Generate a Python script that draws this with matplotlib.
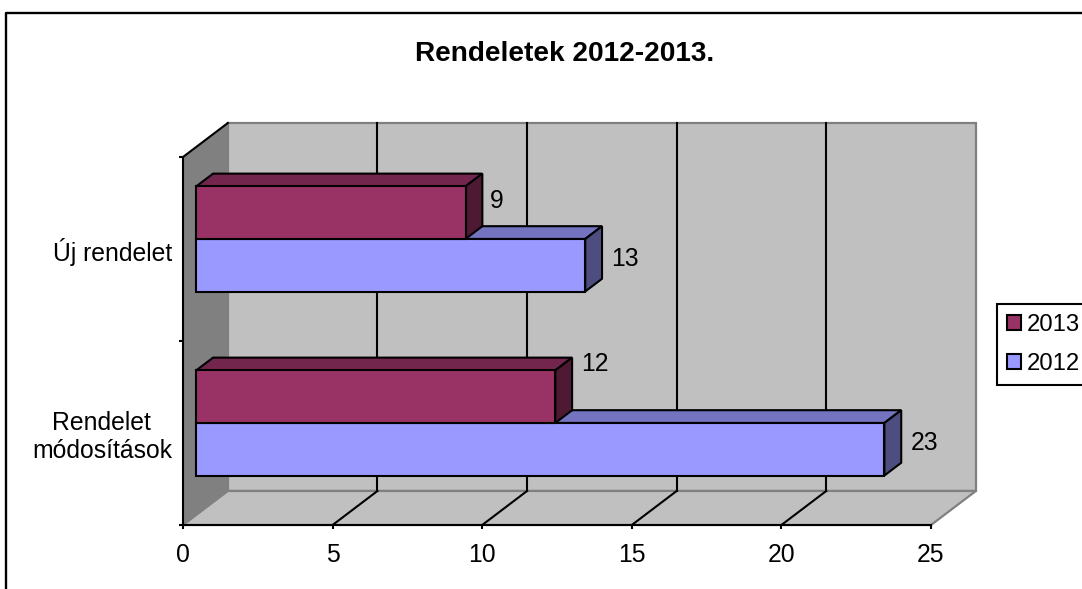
from matplotlib import pyplot as plt
from matplotlib.lines import Line2D
from matplotlib.patches import Patch, Polygon

plt.rcParams["font.family"] = ["Liberation Sans", "DejaVu Sans"]

title = "Rendeletek 2012-2013."
categories = ["Rendelet\nmódosítások", "Új rendelet"]
series_names = ["2012", "2013"]
values_2012 = [23, 13]
values_2013 = [12, 9]
x_ticks = [0, 5, 10, 15, 20, 25]

# front face, top face, side face
colors_2012 = ("#9999FF", "#7373BF", "#4D4D80")
colors_2013 = ("#993366", "#73264D", "#4D1933")
WALL = "#C0C0C0"
SIDE_WALL = "#808080"

W, H = 1082, 589
FONT = 17.8
LW = 1.5

# 3d look: how far the back wall is shifted from the front plane
DEPTH_X = 1.5
DEPTH_Y = 0.185
BAR_FRONT = 0.295
BAR_BACK = 0.67
BAR_H = 1 / 3.5


def shift(x, y, d):
    return (x + DEPTH_X * d, y + DEPTH_Y * d)


def face(ax, pts, color, edge="black", lw=LW, z=3):
    ax.add_patch(Polygon(pts, closed=True, facecolor=color, edgecolor=edge,
                         linewidth=lw, zorder=z, clip_on=False, joinstyle="miter"))


def draw_bar(ax, value, y0, colors):
    y1 = y0 + BAR_H
    front = [shift(0, y0, BAR_FRONT), shift(value, y0, BAR_FRONT),
             shift(value, y1, BAR_FRONT), shift(0, y1, BAR_FRONT)]
    top = [shift(0, y1, BAR_FRONT), shift(value, y1, BAR_FRONT),
           shift(value, y1, BAR_BACK), shift(0, y1, BAR_BACK)]
    side = [shift(value, y0, BAR_FRONT), shift(value, y0, BAR_BACK),
            shift(value, y1, BAR_BACK), shift(value, y1, BAR_FRONT)]
    face(ax, top, colors[1])
    face(ax, side, colors[2])
    face(ax, front, colors[0])


fig = plt.figure(figsize=(W / 100, H / 100), dpi=100)
ax = fig.add_axes([183 / W, 1 - 525 / H, 748 / W, 368 / H])
ax.set_xlim(0, 25)
ax.set_ylim(0, 2)
ax.patch.set_visible(False)

# chart border, its right and bottom side fall outside the image
fig.add_artist(Line2D([5.5 / W, 5.5 / W, 1], [0, 1 - 12.5 / H, 1 - 12.5 / H],
                      color="black", lw=1.7))

# walls and floor
back_wall = [shift(0, 0, 1), shift(25, 0, 1), shift(25, 2, 1), shift(0, 2, 1)]
left_wall = [(0, 0), shift(0, 0, 1), shift(0, 2, 1), (0, 2)]
floor = [(0, 0), (25, 0), shift(25, 0, 1), shift(0, 0, 1)]
face(ax, back_wall, WALL, edge=SIDE_WALL, lw=1.6, z=1)
face(ax, floor, WALL, edge=SIDE_WALL, lw=1.6, z=1)
face(ax, left_wall, SIDE_WALL, edge="none", z=1)
ax.plot(*zip((0, 2), shift(0, 2, 1)), color="black", lw=LW, zorder=2, clip_on=False)

for t in x_ticks[1:-1]:
    ax.plot(*zip(shift(t, 0, 1), shift(t, 2, 1)), color="black", lw=LW, zorder=2, clip_on=False)
    ax.plot(*zip((t, 0), shift(t, 0, 1)), color="black", lw=LW, zorder=2, clip_on=False)

# bars, 2012 sits under 2013 in each group
for i in range(len(categories)):
    mid = i + 0.5
    draw_bar(ax, values_2012[i], mid - BAR_H, colors_2012)
    draw_bar(ax, values_2013[i], mid, colors_2013)

# value labels, offsets in pixels from the end of the bar
label_offsets_2012 = [(26, 6), (26, 6)]
label_offsets_2013 = [(26, 33), (24, 12)]
for i in range(len(categories)):
    for vals, offs, yb in ((values_2012, label_offsets_2012, i + 0.5 - BAR_H),
                           (values_2013, label_offsets_2013, i + 0.5)):
        ax.annotate(str(vals[i]), xy=shift(vals[i], yb + BAR_H / 2, BAR_FRONT),
                    xytext=offs[i], textcoords="offset pixels", fontsize=FONT,
                    ha="left", va="center", zorder=5, annotation_clip=False)

for s in ("top", "right"):
    ax.spines[s].set_visible(False)
for s in ("left", "bottom"):
    ax.spines[s].set_linewidth(LW)
    ax.spines[s].set_zorder(4)

ax.set_xticks(x_ticks)
ax.tick_params(axis="x", length=3, width=LW, labelsize=FONT, pad=10)
ax.set_yticks([0, 1, 2])
ax.set_yticklabels([])
ax.tick_params(axis="y", which="major", length=3, width=LW)
ax.set_yticks([0.5, 1.5], minor=True)
ax.set_yticklabels(categories, minor=True, fontsize=FONT, multialignment="center")
ax.tick_params(axis="y", which="minor", length=0, pad=8)

fig.text(565 / W, 1 - 54 / H, title, fontsize=20.2, fontweight="bold", ha="center", va="center")

handles = [Patch(facecolor=colors_2013[0], edgecolor="black", linewidth=LW),
           Patch(facecolor=colors_2012[0], edgecolor="black", linewidth=LW)]
legend = fig.legend(handles, [series_names[1], series_names[0]], loc="upper left",
                    bbox_to_anchor=(997 / W, 1 - 304 / H), borderaxespad=0, fontsize=17.2,
                    fancybox=False, framealpha=1, edgecolor="black", handlelength=0.57,
                    handleheight=0.57, handletextpad=0.27, labelspacing=0.72, borderpad=0.42)
legend.get_frame().set_linewidth(LW)

plt.savefig("out.png", dpi=100)
